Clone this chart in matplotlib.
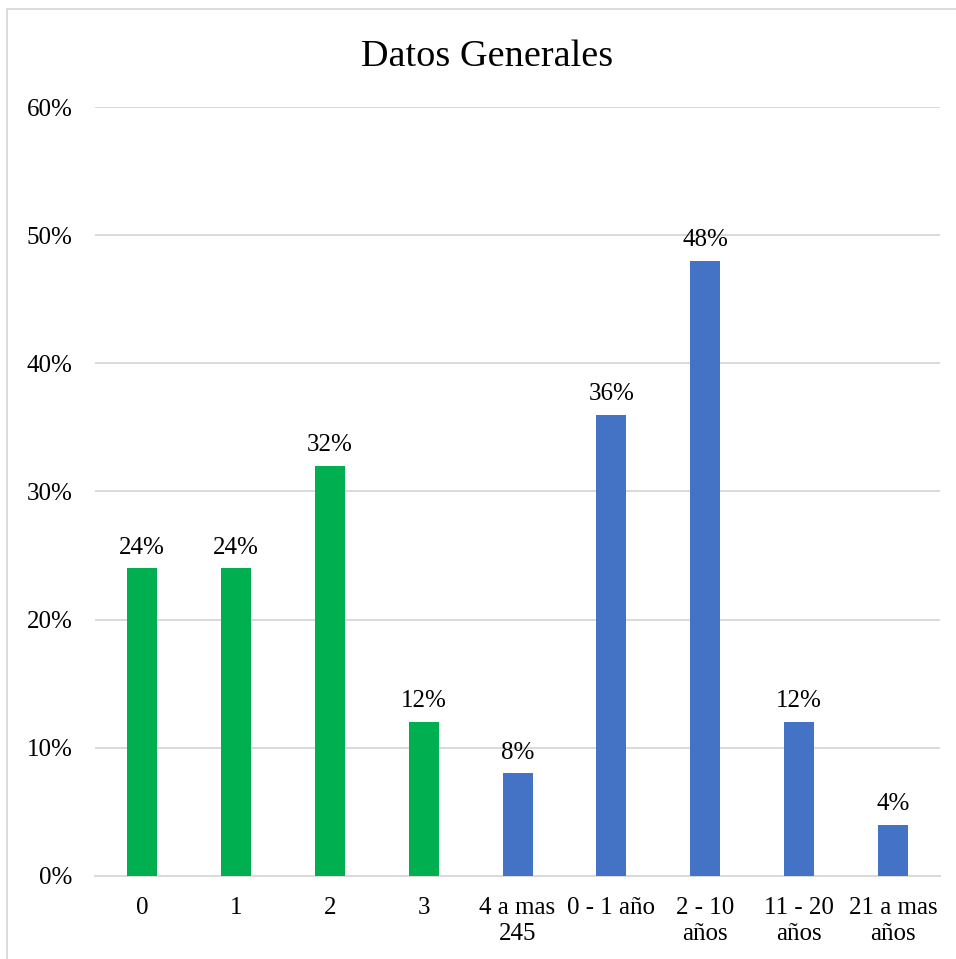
import matplotlib
matplotlib.use('Agg')
import matplotlib.pyplot as plt
from matplotlib.patches import Rectangle
from matplotlib.ticker import FuncFormatter

# Data
categories = ["0", "1", "2", "3", "4 a mas\n245", "0 - 1 año", "2 - 10\naños", "11 - 20\naños", "21 a mas\naños"]
values = [0.24, 0.24, 0.32, 0.12, 0.08, 0.36, 0.48, 0.12, 0.04]
bar_colors = ["#00B050"] * 4 + ["#4472C4"] * 5
y_ticks = [0.0, 0.1, 0.2, 0.3, 0.4, 0.5, 0.6]

plt.rcParams['font.family'] = ['Liberation Serif', 'DejaVu Serif']

fig = plt.figure(figsize=(9.56, 9.59), dpi=100)
ax = fig.add_axes([0.0994, 0.0866, 0.8839, 0.8018])

x = list(range(len(categories)))
bars = ax.bar(x, values, width=0.32, color=bar_colors, zorder=3)

for xi, v in zip(x, values):
    ax.annotate(f"{v * 100:.0f}%", (xi, v), xytext=(0, 7), textcoords="offset points",
                ha="center", va="bottom", fontsize=18, color="#000000")

ax.set_xlim(-0.5, len(categories) - 0.5)
ax.set_ylim(0, 0.6)
ax.set_yticks(y_ticks)
ax.yaxis.set_major_formatter(FuncFormatter(lambda v, _: f"{v * 100:.0f}%"))
ax.set_xticks(x)
ax.set_xticklabels(categories, linespacing=1.25)

ax.tick_params(axis="both", length=0, labelsize=18, colors="#000000")
ax.tick_params(axis="x", pad=15)
ax.tick_params(axis="y", pad=16)

ax.grid(axis="y", color="#D9D9D9", linewidth=1.4, zorder=0)
for side in ["top", "right", "left"]:
    ax.spines[side].set_visible(False)
ax.spines["bottom"].set_color("#D9D9D9")
ax.spines["bottom"].set_linewidth(1.4)

fig.text(0.51, 0.941, "Datos Generales", ha="center", va="center", fontsize=27.5)

# chart frame (cut off at right and bottom like the reference)
fig.patches.append(Rectangle((7 / 956, -0.1), 1.2, 1.1 - 9 / 959, transform=fig.transFigure,
                             fill=False, edgecolor="#D9D9D9", linewidth=1.3))

fig.savefig("out.png", dpi=100)
